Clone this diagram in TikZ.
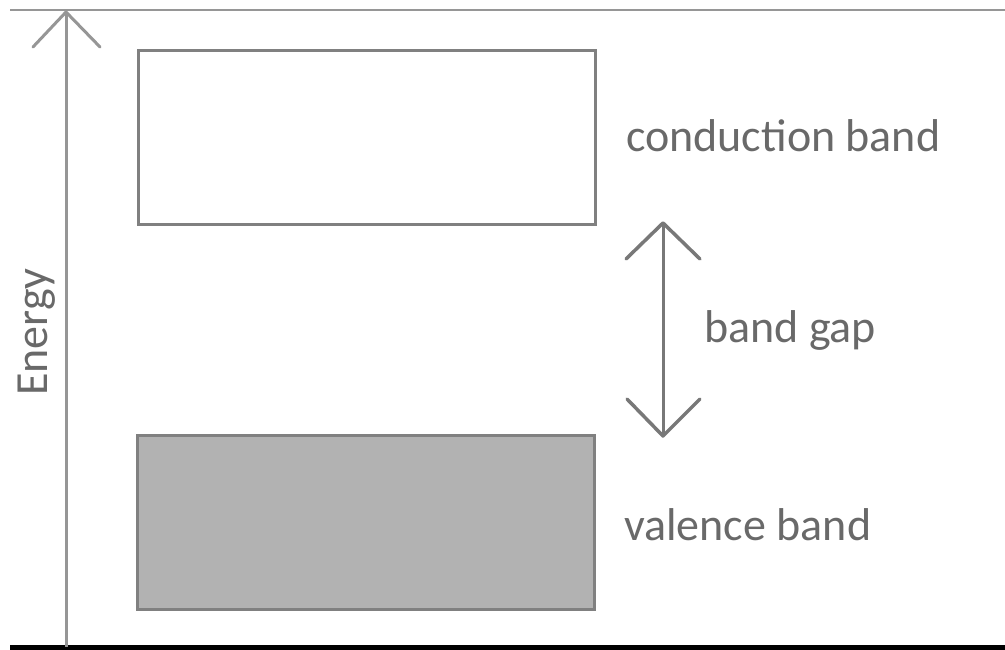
\documentclass[tikz,border=0pt]{standalone}
\usepackage{fontspec}
\setmainfont{Carlito}
\definecolor{linegray}{RGB}{150,150,150}
\definecolor{boxline}{RGB}{128,128,128}
\definecolor{valfill}{RGB}{178,178,178}
\definecolor{txtgray}{RGB}{105,105,105}
\definecolor{arrgray}{RGB}{120,120,120}
\begin{document}
\begin{tikzpicture}[x=1pt,y=-1pt,
  band/.style={draw=boxline,line width=3pt,minimum width=457pt,inner sep=0pt,anchor=north west},
  lbl/.style={text=txtgray,font=\fontsize{46}{50}\selectfont,inner sep=0pt,anchor=base west},
  chev/.style={line width=3.5pt,draw=arrgray,line cap=round,line join=round}]
\useasboundingbox (0,0) rectangle (1005,650);
% frame lines
\coordinate (tl) at (10,10);
\coordinate (tr) at (1005,10);
\coordinate (bl) at (10,647);
\coordinate (br) at (1005,647);
\draw[linegray,line width=2.5pt] (tl) -- (tr);
\draw[black,line width=5pt] (bl) -- (br);
% energy axis
\coordinate (axb) at (66,647);
\coordinate (axt) at (66,12);
\coordinate (axl) at (33,47);
\coordinate (axr) at (100,47);
\draw[linegray,line width=3pt] (axb) -- (axt);
\draw[linegray,line width=3pt,line cap=round,line join=miter] (axl) -- (axt) -- (axr);
\node[text=txtgray,font=\fontsize{46}{50}\selectfont,rotate=90,inner sep=0pt,anchor=base] (energy) at (47,332) {Energy};
% bands
\node[band,fill=white,minimum height=174pt] (cb) at (137,49) {};
\node[band,fill=valfill,minimum height=174pt] (vb) at (136,434) {};
\node[lbl] (cbl) at (626,152) {conduction band};
\node[lbl] (vbl) at (624,540) {valence band};
% band gap arrow
\coordinate (gt) at (663,223);
\coordinate (gb) at (663,436);
\draw[arrgray,line width=3pt] (gt) -- (gb);
\coordinate (gtl) at (626,259);
\coordinate (gtr) at (700,259);
\coordinate (gbl) at (627,399);
\coordinate (gbr) at (700,399);
\draw[chev] (gtl) -- (gt) -- (gtr);
\draw[chev] (gbl) -- (gb) -- (gbr);
\node[lbl] (gap) at (704,342) {band gap};
\end{tikzpicture}
\end{document}
